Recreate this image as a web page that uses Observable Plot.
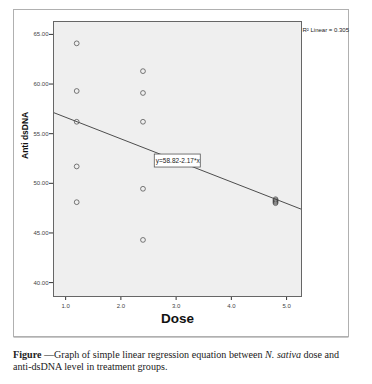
<!DOCTYPE html>
<html>
<head>
<meta charset="utf-8">
<script src="https://cdn.jsdelivr.net/npm/d3@7"></script>
<script src="https://cdn.jsdelivr.net/npm/@observablehq/plot@0.6"></script>
<style>
  html, body { margin: 0; padding: 0; background: #fff; }
  #wrap { position: relative; width: 372px; height: 384px; }
  #chart svg { display: block; }
  #caption { position: absolute; left: 13px; top: 349px; font-family: "Liberation Serif", "Times New Roman", serif; font-size: 10.1px; line-height: 11.5px; color: #222; white-space: nowrap; }
</style>
</head>
<body>
<div id="wrap">
  <div id="chart"></div>
  <div id="caption"><b>Figure</b> —Graph of simple linear regression equation between <i>N. sativa</i> dose and<br>anti-dsDNA level in treatment groups.</div>
</div>
<script>
// Data
const dose = [1.2, 1.2, 1.2, 1.2, 1.2, 2.4, 2.4, 2.4, 2.4, 2.4, 4.8, 4.8, 4.8, 4.8, 4.8];
const antiDsDNA = [64.1, 59.3, 56.2, 51.7, 48.1, 61.3, 59.1, 56.2, 49.45, 44.3, 48.4, 48.3, 48.2, 48.1, 48.0];
const xTicks = [1, 2, 3, 4, 5];
const yTicks = [40, 45, 50, 55, 60, 65];
const intercept = 58.82;
const slope = -2.17;
const equationLabel = "y=58.82-2.17*x";
const r2Label = "R\u00B2 Linear = 0.305";
const xDomain = [0.78, 5.27];
const yDomain = [38.6, 66.3];

const points = dose.map((d, i) => ({dose: d, value: antiDsDNA[i]}));
const fitLine = xDomain.map(x => ({dose: x, value: intercept + slope * x}));
const labelX = 3.03;
const labelRow = [{dose: labelX, value: intercept + slope * labelX, text: equationLabel}];

const chart = Plot.plot({
  width: 372,
  height: 345,
  marginLeft: 53,
  marginRight: 71,
  marginTop: 21,
  marginBottom: 49,
  x: {domain: xDomain},
  y: {domain: yDomain},
  style: {fontFamily: "Liberation Sans, Arial, sans-serif", background: "transparent"},
  marks: [
    Plot.frame({fill: "#efefef", stroke: "none"}),
    Plot.axisY({ticks: yTicks, tickFormat: d3.format(".2f"), tickSize: 4, tickPadding: 1, fontSize: 6, label: null, stroke: "#333", color: "#444"}),
    Plot.axisX({ticks: xTicks, tickFormat: d3.format(".1f"), tickSize: 4, tickPadding: 3, fontSize: 6, label: null, stroke: "#333", color: "#444"}),
    Plot.line(fitLine, {x: "dose", y: "value", stroke: "#3a3a3a", strokeWidth: 0.9}),
    Plot.dot(points, {x: "dose", y: "value", r: 2.4, stroke: "#444", strokeWidth: 0.7, fill: "none"}),
    Plot.rect(labelRow, {x1: "dose", x2: "dose", y1: "value", y2: "value", insetLeft: -23, insetRight: -23, insetTop: -6.5, insetBottom: -6.5, fill: "#fff", stroke: "#555", strokeWidth: 0.8}),
    Plot.text(labelRow, {x: "dose", y: "value", text: "text", fontSize: 6.5, fill: "#222"}),
    Plot.frame({stroke: "#666", strokeWidth: 1}),
    Plot.text([r2Label], {frameAnchor: "top-right", dx: 1, dy: 6, textAnchor: "start", fontSize: 6, fill: "#222"}),
    Plot.text(["Dose"], {frameAnchor: "bottom", dy: 26, fontSize: 13.5, fontWeight: "bold", fill: "#111"}),
    Plot.text(["Anti dsDNA"], {frameAnchor: "left", dx: -28, rotate: -90, fontSize: 8.5, fontWeight: "bold", fill: "#111"})
  ]
});
document.getElementById("chart").appendChild(chart);

const ns = "http://www.w3.org/2000/svg";
// outer frame of the figure
const outer = document.createElementNS(ns, "rect");
outer.setAttribute("x", 13.5);
outer.setAttribute("y", 9.5);
outer.setAttribute("width", 335);
outer.setAttribute("height", 327);
outer.setAttribute("fill", "none");
outer.setAttribute("stroke", "#b0b0b0");
outer.setAttribute("stroke-width", "1");
chart.insertBefore(outer, chart.firstChild.nextSibling);
const shadow = document.createElementNS(ns, "line");
shadow.setAttribute("x1", 13.5);
shadow.setAttribute("x2", 348.5);
shadow.setAttribute("y1", 337.5);
shadow.setAttribute("y2", 337.5);
shadow.setAttribute("stroke", "#c8c8c8");
shadow.setAttribute("stroke-width", "1");
chart.insertBefore(shadow, outer.nextSibling);
</script>
</body>
</html>
